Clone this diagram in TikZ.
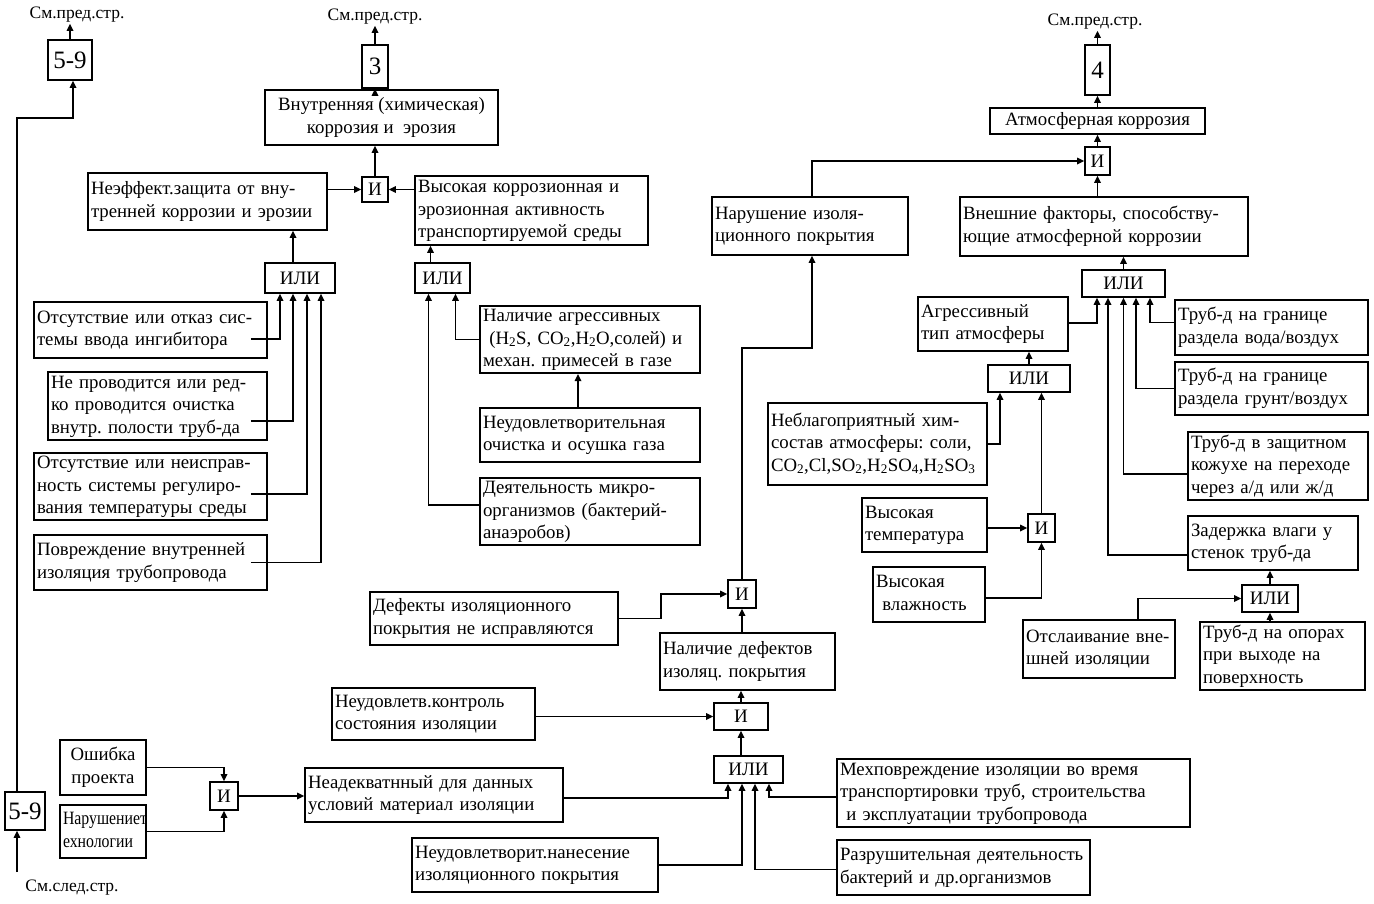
\documentclass[tikz,border=0pt]{standalone}
\usepackage{fontspec}
\setmainfont{Liberation Serif}
\usetikzlibrary{arrows.meta}
\tikzset{
 bx/.style={draw, line width=1.6pt, inner xsep=3pt, inner ysep=0pt, font=\fontsize{18.8}{22.5}\selectfont, align=left},
 gate/.style={draw, line width=1.6pt, inner sep=0pt, font=\fontsize{19}{21}\selectfont},
 ar/.style={line width=1.6pt, -{Triangle[length=7pt,width=6.5pt]}},
 lbl/.style={font=\fontsize{17.5}{19}\selectfont, inner sep=1pt},
 big/.style={font=\fontsize{25}{27}\selectfont}
}
\frenchspacing
\newcommand\mybox[7][]{%
 \pgfmathsetmacro\cx{(#3+#5)/2}%
 \pgfmathsetmacro\cy{(#4+#6)/2}%
 \pgfmathsetmacro\ww{#5-#3}%
 \pgfmathsetmacro\hh{#6-#4}%
 \pgfmathsetmacro\tw{#5-#3-6}%
 \node[bx,minimum width=\ww pt,minimum height=\hh pt,text width=\tw pt,#1] (#2) at (\cx,\cy) {\begin{tabular}{@{}l@{}}#7\end{tabular}};}
\newcommand\myboxc[7][]{%
 \pgfmathsetmacro\cx{(#3+#5)/2}%
 \pgfmathsetmacro\cy{(#4+#6)/2}%
 \pgfmathsetmacro\ww{#5-#3}%
 \pgfmathsetmacro\hh{#6-#4}%
 \node[bx,align=center,minimum width=\ww pt,minimum height=\hh pt,#1] (#2) at (\cx,\cy) {\begin{tabular}{@{}c@{}}#7\end{tabular}};}
\newcommand\mygate[7][]{%
 \pgfmathsetmacro\cx{(#3+#5)/2}%
 \pgfmathsetmacro\cy{(#4+#6)/2}%
 \pgfmathsetmacro\ww{#5-#3}%
 \pgfmathsetmacro\hh{#6-#4}%
 \node[gate,minimum width=\ww pt,minimum height=\hh pt,#1] (#2) at (\cx,\cy) {#7};}
\newcommand\sub[1]{\textsubscript{#1}}
\begin{document}
\begin{tikzpicture}[x=1pt,y=-1pt]
\fill[white] (0,0) rectangle (1374,903);
\useasboundingbox (0,0) rectangle (1374,903);
% ---------- left top
\mygate[big]{B59t}{48}{40}{92}{80}{5-9}
\node[lbl] (lbl1) at (77,15) {См.пред.стр.};
\mygate[big]{B3}{362}{45}{388}{88}{3}
\node[lbl] (lbl2) at (375,17) {См.пред.стр.};
\myboxc{Bint}{265}{90}{498}{145}{Внутренняя (химическая)\\коррозия и\ \ эрозия}
\mygate{AND1}{362}{177}{388}{202}{И}
\mybox{Bneff}{88}{173}{327}{230}{Неэффект.защита от вну-\\тренней коррозии и эрозии}
\mybox{Bhigh}{415}{176}{648}{245}{Высокая коррозионная и\\эрозионная активность\\транспортируемой среды}
\mygate{OR1}{265}{263}{335}{293}{ИЛИ}
\mygate{OR2}{415}{263}{470}{293}{ИЛИ}
\mybox{L1}{34}{302}{267}{358}{Отсутствие или отказ сис-\\темы ввода ингибитора}
\mybox{L2}{48}{372}{267}{440}{Не проводится или ред-\\ко проводится очистка\\внутр. полости труб-да}
\mybox{L3}{34}{453}{267}{520}{Отсутствие или неисправ-\\ность системы регулиро-\\вания температуры среды}
\mybox{L4}{34}{535}{267}{590}{Повреждение внутренней\\изоляция трубопровода}
\mybox{M1}{480}{307}{700}{372}{Наличие агрессивных\\\ (H\sub{2}S, CO\sub{2},H\sub{2}O,солей) и\\механ. примесей в газе}
\mybox{M2}{480}{408}{700}{462}{Неудовлетворительная\\очистка и осушка газа}
\mybox{M3}{480}{478}{700}{545}{Деятельность микро-\\организмов (бактерий-\\анаэробов)}
% ---------- right top
\mybox{NI}{712}{197}{908}{255}{Нарушение изоля-\\ционного покрытия}
\mygate{AND2}{1085}{147}{1110}{175}{И}
\myboxc{Atmos}{990}{108}{1205}{134}{Атмосферная коррозия}
\mygate[big]{B4}{1085}{45}{1110}{95}{4}
\node[lbl] (lbl3) at (1095,22) {См.пред.стр.};
\mybox{Ext}{960}{197}{1248}{256}{Внешние факторы, способству-\\ющие атмосферной коррозии}
\mygate{OR3}{1082}{270}{1165}{297}{ИЛИ}
\mybox{Agr}{918}{297}{1068}{351}{Агрессивный\\тип атмосферы}
\mybox{R1}{1175}{300}{1368}{355}{Труб-д на границе\\раздела вода/воздух}
\mybox{R2}{1175}{362}{1368}{415}{Труб-д на границе\\раздела грунт/воздух}
\mybox{R3}{1188}{432}{1368}{500}{Труб-д в защитном\\кожухе на переходе\\через а/д или ж/д}
\mybox{R4}{1188}{516}{1358}{570}{Задержка влаги у\\стенок труб-да}
\mygate{OR4}{988}{365}{1070}{392}{ИЛИ}
\mybox{Neb}{768}{403}{987}{485}{Неблагоприятный хим-\\состав атмосферы: соли,\\CO\sub{2},Cl,SO\sub{2},H\sub{2}SO\sub{4},H\sub{2}SO\sub{3}}
\mygate{AND3}{1028}{514}{1055}{542}{И}
\mybox{HT}{862}{498}{987}{552}{Высокая\\температура}
\mybox{HH}{873}{567}{985}{622}{Высокая\\\ влажность}
\mygate{OR5}{1242}{585}{1298}{612}{ИЛИ}
\mybox{Otsl}{1023}{620}{1175}{678}{Отслаивание вне-\\шней изоляции}
\mybox{R5}{1200}{622}{1365}{690}{Труб-д на опорах\\при выходе на\\поверхность}
% ---------- bottom
\mygate{AND4}{728}{580}{756}{608}{И}
\mybox{Def}{370}{592}{618}{645}{Дефекты изоляционного\\покрытия не исправляются}
\mybox{Nal}{660}{633}{835}{690}{Наличие дефектов\\изоляц. покрытия}
\mygate{AND5}{714}{703}{768}{730}{И}
\mybox{Kontr}{332}{688}{535}{740}{Неудовлетв.контроль\\состояния изоляции}
\mygate{OR6}{714}{756}{783}{783}{ИЛИ}
\mybox{Inad}{305}{768}{563}{822}{Неадекватнный для данных\\условий материал изоляции}
\mybox{Nanes}{412}{838}{658}{892}{Неудовлетворит.нанесение\\изоляционного покрытия}
\mybox{Mech}{837}{760}{1190}{826}{Мехповреждение изоляции во время\\транспортировки труб, строительства\\\ и эксплуатации трубопровода}
\mybox{Razr}{837}{840}{1090}{895}{Разрушительная деятельность\\бактерий и др.организмов}
\myboxc{Osh}{60}{740}{146}{795}{Ошибка\\проекта}
\mybox[inner xsep=2pt]{Nar}{60}{805}{146}{858}{\scalebox{0.84}[1]{Нарушениет}\\\scalebox{0.84}[1]{ехнологии}}
\mygate{AND6}{210}{782}{238}{810}{И}
\mygate[big]{B59b}{5}{792}{45}{830}{5-9}
\node[lbl] (lbl4) at (72,888) {См.след.стр.};
% ---------- connectors
\draw[ar] (B59t.north) -- (B59t.north |- lbl1.south);
\coordinate (k1) at (17,118);
\draw[ar] (B59b.north -| k1) -- (k1) -| ([xshift=3pt]B59t.south);
\coordinate (k2) at (17,872);
\draw[ar] (k2) -- (k2 |- B59b.south);
\draw[ar] (B3.north) -- (B3.north |- lbl2.south);
\draw[ar] (Bint.north -| B3) -- (B3.south);
\draw[ar] (AND1.north) -- (AND1.north |- Bint.south);
\draw[ar] (Bneff.east |- AND1) -- (AND1.west);
\draw[ar] (Bhigh.west |- AND1) -- (AND1.east);
\draw[ar] ([xshift=-7pt]OR1.north) -- ([xshift=-7pt]OR1.north |- Bneff.south);
\draw[ar] ([xshift=-17pt,yshift=-9pt]L1.east) -| ([xshift=-20pt]OR1.south);
\draw[ar] ([xshift=-17pt,yshift=-15pt]L2.east) -| ([xshift=-7pt]OR1.south);
\draw[ar] ([xshift=-17pt,yshift=-7.5pt]L3.east) -| ([xshift=7pt]OR1.south);
\draw[ar] ([xshift=-17pt]L4.east) -| ([xshift=21pt]OR1.south);
\draw[ar] ([xshift=-12pt]OR2.north) -- ([xshift=-12pt]OR2.north |- Bhigh.south);
\draw[ar] (M1.west) -| ([xshift=13pt]OR2.south);
\draw[ar] ([xshift=-12pt]M2.north) -- ([xshift=-12pt]M2.north |- M1.south);
\draw[ar] ([yshift=6.5pt]M3.west) -| ([xshift=-14pt]OR2.south);
\draw[ar] (B4.north) -- (B4.north |- lbl3.south);
\draw[ar] (Atmos.north -| B4) -- (B4.south);
\draw[ar] (AND2.north) -- (AND2.north |- Atmos.south);
\draw[ar] (Ext.north -| AND2) -- (AND2.south);
\draw[ar] ([xshift=2pt]NI.north) |- (AND2.west);
\draw[ar] (OR3.north) -- (OR3.north |- Ext.south);
\draw[ar] ([yshift=1pt]Agr.east) -| ([xshift=-26.5pt]OR3.south);
\draw[ar] ([yshift=5pt]R1.west) -| ([xshift=26.5pt]OR3.south);
\draw[ar] (R2.west) -| ([xshift=12.5pt]OR3.south);
\draw[ar] ([yshift=-8pt]R3.west) -| (OR3.south);
\draw[ar] ([yshift=-12pt]R4.west) -| ([xshift=-15.5pt]OR3.south);
\draw[ar] (OR4.north) -- (OR4.north |- Agr.south);
\draw[ar] (Neb.east) -| ([xshift=-29pt]OR4.south);
\draw[ar] (AND3.north) -- (AND3.north |- OR4.south);
\draw[ar] (HT.east |- AND3) -- (AND3.west);
\draw[ar] ([yshift=-3.5pt]HH.east) -| (AND3.south);
\draw[ar] (OR5.north) -- (OR5.north |- R4.south);
\draw[ar] ([xshift=39pt]Otsl.north) |- (OR5.west);
\draw[ar] (R5.north -| OR5) -- (OR5.south);
\coordinate (k3) at (780,348);
\draw[ar] (AND4.north) |- (k3) -| ([xshift=2pt]NI.south);
\draw[ar] (Def.east) -- ++(42,0) |- (AND4.west);
\draw[ar] (Nal.north -| AND4) -- (AND4.south);
\draw[ar] (AND5.north) -- (AND5.north |- Nal.south);
\draw[ar] (Kontr.east |- AND5) -- (AND5.west);
\draw[ar] (OR6.north -| AND5) -- (AND5.south);
\draw[ar] ([yshift=-3pt]Inad.east) -| ([xshift=-20.5pt]OR6.south);
\draw[ar] (Nanes.east) -| ([xshift=-6.5pt]OR6.south);
\draw[ar] ([yshift=-2pt]Razr.west) -| ([xshift=6.5pt]OR6.south);
\draw[ar] ([yshift=-4pt]Mech.west) -| ([xshift=20.5pt]OR6.south);
\draw[ar] (Osh.east) -| (AND6.north);
\draw[ar] (Nar.east) -| (AND6.south);
\draw[ar] (AND6.east) -- (AND6.east -| Inad.west);
\end{tikzpicture}
\end{document}
